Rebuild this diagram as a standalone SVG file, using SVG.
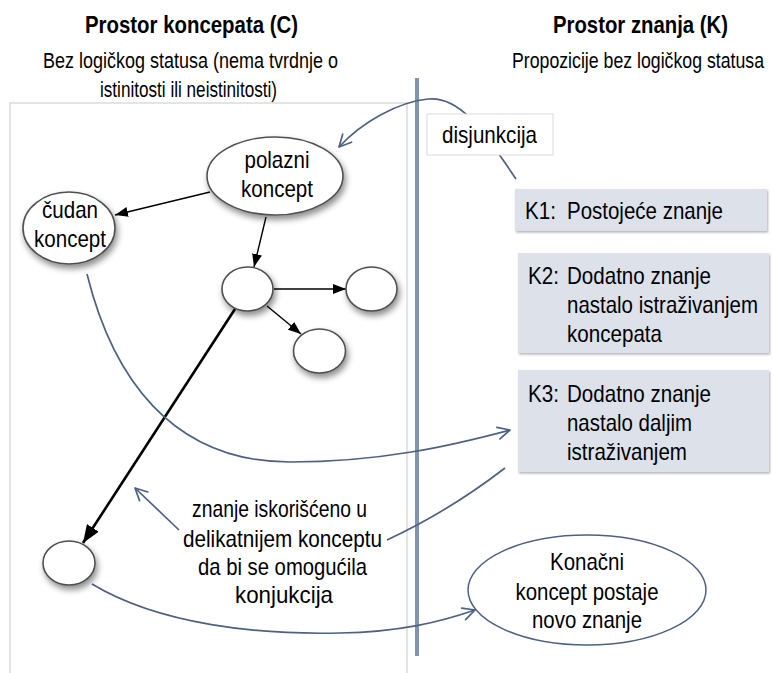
<svg xmlns="http://www.w3.org/2000/svg" width="774" height="673" viewBox="0 0 774 673">
  <defs>
    <style>
      text { font-family: "Liberation Sans Narrow", "Liberation Sans", Arial, sans-serif; fill: #000; }
      .h { font-size: 24px; font-weight: bold; text-anchor: middle; }
      .s { font-size: 22px; text-anchor: middle; }
      .t { font-size: 24px; }
      .c { text-anchor: middle; }
      .node { fill: #fff; stroke: #505050; stroke-width: 1.6; filter: url(#shadow); }
      .kbox { fill: #dce1ea; filter: url(#kshadow); }
      .edge { fill: none; stroke: #000; stroke-width: 1.4; marker-end: url(#tri); }
      .edge-thick { fill: none; stroke: #000; stroke-width: 2.6; marker-end: url(#triBig); }
      .link { fill: none; stroke: #4d6182; stroke-width: 1.7; }
      .arrowed { marker-end: url(#vee); }
    </style>
    <filter id="shadow" x="-40%" y="-40%" width="190%" height="200%">
      <feDropShadow dx="2" dy="4" stdDeviation="3" flood-color="#000" flood-opacity="0.45"/>
    </filter>
    <filter id="kshadow" x="-5%" y="-10%" width="110%" height="130%">
      <feDropShadow dx="1" dy="1.5" stdDeviation="0.8" flood-color="#000" flood-opacity="0.3"/>
    </filter>
    <marker id="tri" markerWidth="13" markerHeight="10" refX="13" refY="5" orient="auto" markerUnits="userSpaceOnUse">
      <path d="M0,0 L13,5 L0,10 z" fill="#000"/>
    </marker>
    <marker id="triBig" markerWidth="18" markerHeight="14" refX="18" refY="7" orient="auto" markerUnits="userSpaceOnUse">
      <path d="M0,0 L18,7 L0,14 z" fill="#000"/>
    </marker>
    <marker id="vee" markerWidth="16" markerHeight="16" refX="14" refY="8" orient="auto" markerUnits="userSpaceOnUse">
      <path d="M2,2 L14,8 L2,14" fill="none" stroke="#4d6182" stroke-width="1.7" stroke-linecap="round" stroke-linejoin="round"/>
    </marker>
  </defs>

  <rect width="774" height="673" fill="#fff"/>

  <!-- concept space frame and the dividing bar -->
  <rect x="10" y="103" width="397" height="600" fill="none" stroke="#c9c9c9" stroke-width="1"/>
  <rect x="415" y="78" width="4" height="578" fill="#8394ae"/>

  <!-- headings -->
  <g id="headings">
    <text class="h" x="191.5" y="33" textLength="213" lengthAdjust="spacingAndGlyphs">Prostor koncepata (C)</text>
    <text class="h" x="640.5" y="33" textLength="175" lengthAdjust="spacingAndGlyphs">Prostor znanja (K)</text>
    <text class="s" x="190.5" y="68" textLength="295" lengthAdjust="spacingAndGlyphs">Bez logičkog statusa (nema tvrdnje o</text>
    <text class="s" x="188.5" y="97" textLength="177" lengthAdjust="spacingAndGlyphs">istinitosti ili neistinitosti)</text>
    <text class="s" x="638" y="68" textLength="252" lengthAdjust="spacingAndGlyphs">Propozicije bez logičkog statusa</text>
  </g>

  <!-- connectors -->
  <g id="connectors">
    <line class="edge" x1="210" y1="192" x2="115" y2="215"/>
    <line class="edge" x1="266" y1="217" x2="254" y2="267"/>
    <line class="edge" x1="274" y1="289" x2="346" y2="289"/>
    <line class="edge" x1="267" y1="306" x2="301" y2="334"/>
    <line class="edge-thick" x1="235" y1="309" x2="83" y2="543"/>
    <path class="link arrowed" d="M516,179 C480,125 458,96 428,99 C398,102 362,122 339,147"/>
    <path class="link arrowed" d="M87,274 C112,375 170,462 290,462 C380,462 450,446 510,430"/>
    <path class="link" d="M505,468 C470,495 430,520 387,540"/>
    <path class="link arrowed" d="M179,530 L135,488"/>
    <path class="link arrowed" d="M92,584 C160,625 260,635 340,633 C400,632 440,622 475,610"/>
  </g>

  <!-- concept nodes -->
  <g id="polazni">
    <ellipse class="node" cx="275" cy="176" rx="68" ry="39"/>
    <text class="t c" x="277" y="168" textLength="65" lengthAdjust="spacingAndGlyphs">polazni</text>
    <text class="t c" x="277" y="197" textLength="72" lengthAdjust="spacingAndGlyphs">koncept</text>
  </g>
  <g id="cudan">
    <ellipse class="node" cx="69" cy="228" rx="46" ry="36"/>
    <text class="t c" x="70" y="218" textLength="56" lengthAdjust="spacingAndGlyphs">čudan</text>
    <text class="t c" x="70" y="247" textLength="72" lengthAdjust="spacingAndGlyphs">koncept</text>
  </g>
  <g id="node-a">
    <ellipse class="node" cx="247.5" cy="289" rx="25.5" ry="22"/>
  </g>
  <g id="node-b">
    <ellipse class="node" cx="371.5" cy="289" rx="25.5" ry="22"/>
  </g>
  <g id="node-c">
    <ellipse class="node" cx="319.5" cy="351" rx="26" ry="22"/>
  </g>
  <g id="node-d">
    <ellipse class="node" cx="69" cy="563" rx="26" ry="22"/>
  </g>

  <!-- label on the connector from K1 -->
  <g id="disjunkcija">
    <rect x="427" y="114" width="126" height="41" fill="#fff" stroke="#dadada" stroke-width="1"/>
    <text class="t c" x="489.5" y="143" textLength="95" lengthAdjust="spacingAndGlyphs">disjunkcija</text>
  </g>

  <!-- knowledge boxes -->
  <g id="k1">
    <rect class="kbox" x="515" y="189" width="252" height="42"/>
    <text class="t" x="525" y="219" textLength="31" lengthAdjust="spacingAndGlyphs">K1:</text>
    <text class="t" x="567" y="219" textLength="156" lengthAdjust="spacingAndGlyphs">Postojeće znanje</text>
  </g>
  <g id="k2">
    <rect class="kbox" x="518" y="253" width="251" height="100"/>
    <text class="t" x="528" y="284" textLength="31" lengthAdjust="spacingAndGlyphs">K2:</text>
    <text class="t" x="567" y="284" textLength="144" lengthAdjust="spacingAndGlyphs">Dodatno znanje</text>
    <text class="t" x="567" y="313" textLength="191" lengthAdjust="spacingAndGlyphs">nastalo istraživanjem</text>
    <text class="t" x="567" y="342" textLength="95" lengthAdjust="spacingAndGlyphs">koncepata</text>
  </g>
  <g id="k3">
    <rect class="kbox" x="518" y="370" width="251" height="102"/>
    <text class="t" x="528" y="402" textLength="31" lengthAdjust="spacingAndGlyphs">K3:</text>
    <text class="t" x="567" y="402" textLength="144" lengthAdjust="spacingAndGlyphs">Dodatno znanje</text>
    <text class="t" x="567" y="431" textLength="125" lengthAdjust="spacingAndGlyphs">nastalo daljim</text>
    <text class="t" x="567" y="460" textLength="120" lengthAdjust="spacingAndGlyphs">istraživanjem</text>
  </g>

  <!-- label on the connector from K3 -->
  <g id="konjukcija-label">
    <text class="t c" x="279.5" y="517" textLength="175" lengthAdjust="spacingAndGlyphs">znanje iskorišćeno u</text>
    <text class="t c" x="282.5" y="547" textLength="199" lengthAdjust="spacingAndGlyphs">delikatnijem konceptu</text>
    <text class="t c" x="282.5" y="575" textLength="169" lengthAdjust="spacingAndGlyphs">da bi se omogućila</text>
    <text class="t c" x="284" y="603" textLength="98" lengthAdjust="spacingAndGlyphs">konjukcija</text>
  </g>

  <!-- final concept -->
  <g id="konacni">
    <ellipse cx="587" cy="590" rx="119" ry="55" fill="#fff" stroke="#4d6182" stroke-width="1.5"/>
    <text class="t c" x="587" y="570" textLength="74" lengthAdjust="spacingAndGlyphs">Konačni</text>
    <text class="t c" x="587" y="600" textLength="143" lengthAdjust="spacingAndGlyphs">koncept postaje</text>
    <text class="t c" x="587" y="628" textLength="110" lengthAdjust="spacingAndGlyphs">novo znanje</text>
  </g>
</svg>
